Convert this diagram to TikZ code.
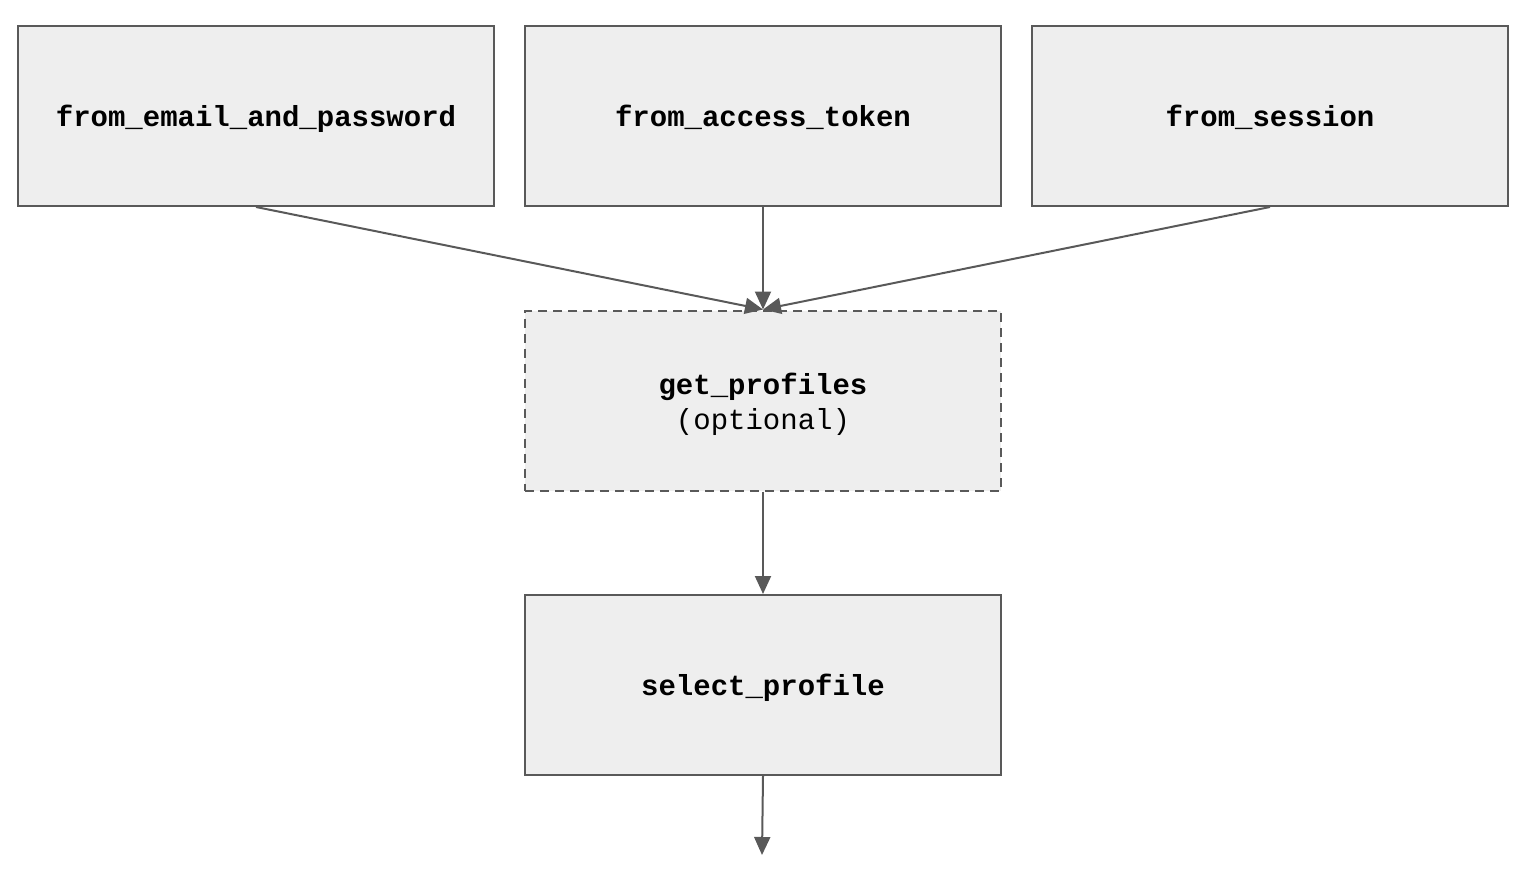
\documentclass[tikz,border=0pt]{standalone}
\usepackage{fontspec}
\setmonofont{Liberation Mono}
\usetikzlibrary{arrows.meta}
\definecolor{edgegray}{HTML}{595959}
\definecolor{boxfill}{HTML}{EEEEEE}
\begin{document}
\begin{tikzpicture}[x=1pt,y=-1pt,
  stage/.style={draw=edgegray, line width=2pt, fill=boxfill,
    minimum width=476pt, minimum height=180pt, inner sep=0pt,
    text height=22pt, text depth=2pt,
    align=center, font=\fontsize{29}{35}\selectfont\ttfamily\bfseries},
  optstage/.style={stage, dash pattern=on 9pt off 6pt},
  flow/.style={draw=edgegray, line width=2pt,
    -{Triangle[width=16pt,length=18pt]}},
  title/.style={font=\fontsize{29}{35}\selectfont\ttfamily\bfseries},
  note/.style={font=\fontsize{29}{35}\selectfont\ttfamily\mdseries}]
  \useasboundingbox (0,0) rectangle (1526,884);
  % entry points
  \node[stage] (email)   at (256,116) {from\_email\_and\_password};
  \node[stage] (token)   at (763,116) {from\_access\_token};
  \node[stage] (session) at (1270,116) {from\_session};
  % optional profile lookup
  \node[optstage] (profiles) at (763,400.5) {};
  \node[title] (ptitle) at (763,387) {get\_profiles};
  \node[note] (pnote) at (763,422) {(optional)};
  % final selection
  \node[stage] (select) at (763,685) {select\_profile};
  \coordinate (out) at (762,855);
  % connectors
  \draw[flow] (email.south) -- (profiles.north);
  \draw[flow] (token.south) -- (profiles.north);
  \draw[flow] (session.south) -- (profiles.north);
  \draw[flow] (profiles.south) -- (select.north);
  \draw[flow] (select.south) -- (out);
\end{tikzpicture}
\end{document}
